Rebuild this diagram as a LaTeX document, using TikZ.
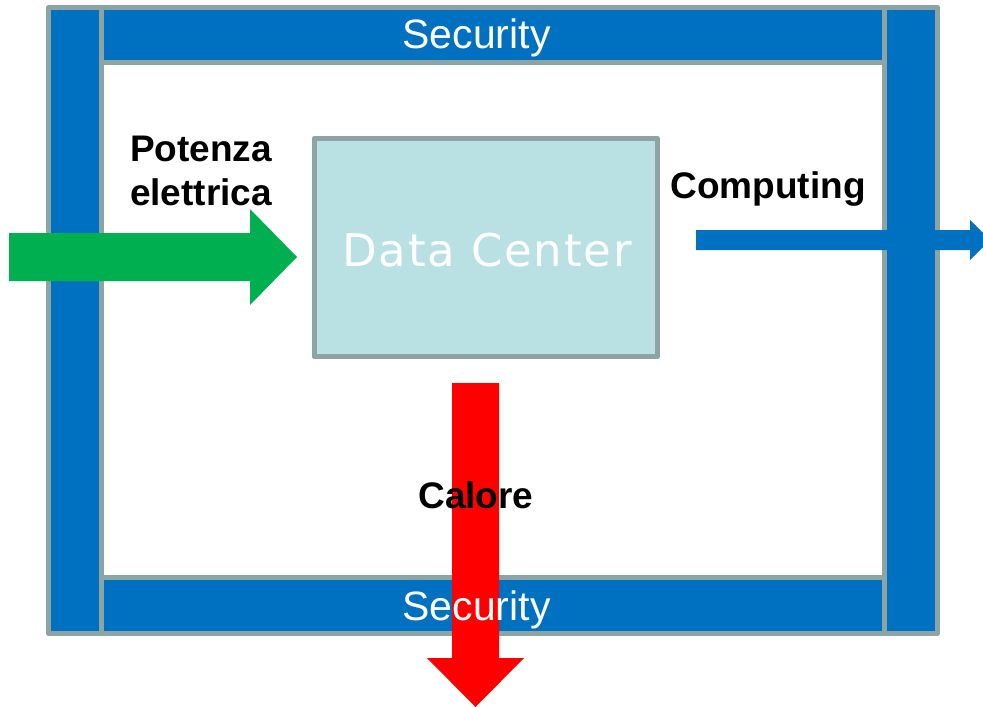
\documentclass[tikz,border=0pt]{standalone}
\usepackage{fontspec}
\setmainfont{Liberation Sans}
\newfontfamily\dcfont[LetterSpace=4]{DejaVu Sans}
\definecolor{frameblue}{HTML}{0070C0}
\definecolor{framegray}{HTML}{8CA4A4}
\definecolor{dcfill}{HTML}{B9E0E3}
\definecolor{powergreen}{HTML}{00B050}
\definecolor{heatred}{HTML}{FF0000}
\tikzset{
  bar/.style={draw=framegray, fill=frameblue, line width=5pt, line join=round,
    inner sep=0pt, outer sep=0pt},
  dcbox/.style={draw=framegray, fill=dcfill, line width=5pt, line join=round,
    inner sep=0pt},
  sectext/.style={text=white, font=\fontsize{41}{46}\selectfont, inner sep=0pt},
  lab/.style={text=black, font=\bfseries\fontsize{37}{44}\selectfont, inner sep=0pt}
}
\begin{document}
\begin{tikzpicture}[x=1pt, y=-1pt]
  \useasboundingbox (0,0) rectangle (983,707);
  \clip (0,0) rectangle (983,707);
  % security frame around the data center
  \node[bar, minimum width=53pt, minimum height=626pt] (lbar) at (75,320.5) {};
  \node[bar, minimum width=53pt, minimum height=626pt] (rbar) at (911,320.5) {};
  \node[bar, minimum width=783pt, minimum height=55pt] (tbar) at (493,35) {};
  \node[bar, minimum width=783pt, minimum height=56pt] (bbar) at (493,605.5) {};
  % the data center itself
  \node[dcbox, minimum width=343pt, minimum height=218pt] (dc) at (485.5,247.5) {};
  % energy and information flows
  \fill[powergreen] (9,233) -- (250,233) -- (250,209) -- (297,257) -- (250,305)
    -- (250,281) -- (9,281) -- cycle;
  \fill[frameblue] (696,230) -- (970,230) -- (970,220) -- (990,240) -- (970,260)
    -- (970,250) -- (696,250) -- cycle;
  \fill[heatred] (452,383) -- (499,383) -- (499,658) -- (524,658) -- (475.5,707)
    -- (427,658) -- (452,658) -- cycle;
  % labels
  \node[sectext, anchor=base] (sectop) at (476.5,48) {Security};
  \node[sectext, anchor=base] (secbot) at (476.5,620) {Security};
  \node[anchor=base, text=white, inner sep=0pt,
    font=\dcfont\fontsize{45}{48}\selectfont] (dclabel) at (487,266) {Data Center};
  \node[lab, align=center, anchor=north] (pot) at (201,136) {Potenza\\elettrica};
  \node[lab, anchor=base] (comp) at (768,198) {Computing};
  \node[lab, anchor=base] (cal) at (476,508) {Calore};
\end{tikzpicture}
\end{document}
